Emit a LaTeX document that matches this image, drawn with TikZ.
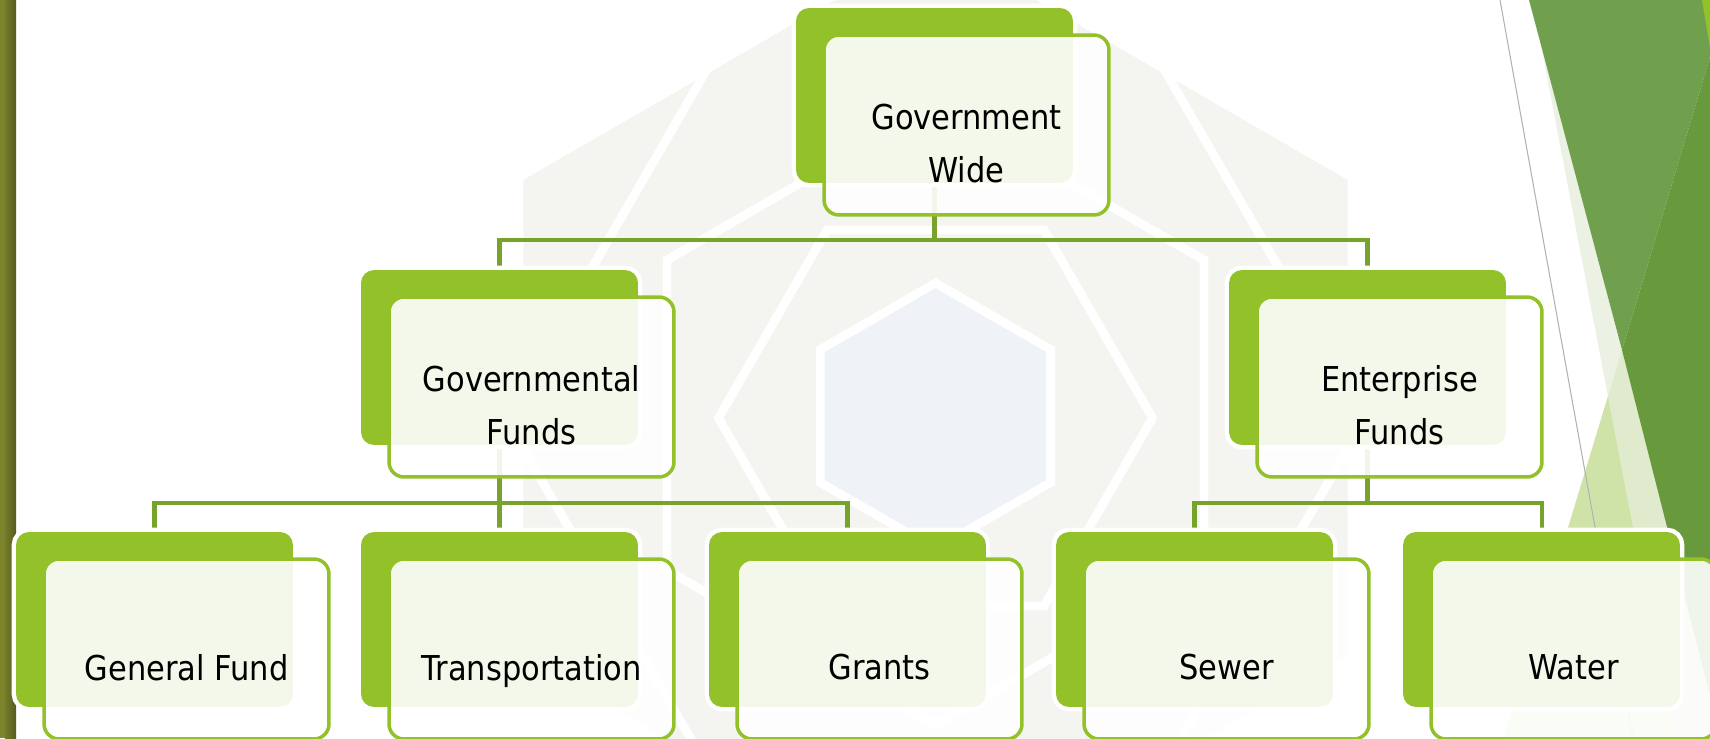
\documentclass[tikz,border=0pt]{standalone}
\usepackage{fontspec}
\newfontfamily\boxfont{DejaVu Sans}[FakeStretch=0.89]

\definecolor{boxgreen}{HTML}{92C12A}
\definecolor{linkgreen}{HTML}{77A22B}
\definecolor{hexgray}{HTML}{F4F4F0}
\definecolor{hexblue}{HTML}{EFF2F6}
\definecolor{facetmid}{HTML}{70A04E}
\definecolor{facetdark}{HTML}{689A3D}
\definecolor{facetlight}{HTML}{CFE2A8}
\definecolor{facetpale}{HTML}{E6EEDA}
\definecolor{barolive}{HTML}{7C852B}
\definecolor{barshade}{HTML}{565A1F}

\pgfdeclarelayer{deco}
\pgfdeclarelayer{links}
\pgfsetlayers{deco,links,main}

\begin{document}
\begin{tikzpicture}[x=0.02cm,y=-0.02cm,
    back/.style={rectangle,rounded corners=0.26cm,fill=boxgreen,inner sep=0pt,
        minimum width=5.54cm,minimum height=3.5cm,
        preaction={draw=white,line width=5pt}},
    front/.style={rectangle,rounded corners=0.3cm,draw=boxgreen,line width=2pt,
        fill=white,fill opacity=0.9,inner sep=0pt,
        minimum width=5.7cm,minimum height=3.6cm,xshift=0.64cm,yshift=-0.59cm},
    lbl/.style={font=\boxfont\fontsize{19.5}{30}\selectfont,align=center,
        text depth=0pt,inner sep=0pt,yshift=-0.36cm},
    link/.style={draw=linkgreen,line width=2.3pt},
    hexline/.style={draw=white,line width=5pt}]
        \useasboundingbox (0,0) rectangle (1710,738);

        % Level 1
        \node[back] (gwb) at (934.5,95.5) {};
        \node[front] (gw) at (gwb) {};
        \node[lbl] (gwt) at (gw) {Government\\Wide};
        % Level 2
        \node[back] (govb) at (499.5,357.5) {};
        \node[front] (gov) at (govb) {};
        \node[lbl] (govt) at (gov) {Governmental\\Funds};
        \node[back] (entb) at (1367.5,357.5) {};
        \node[front] (ent) at (entb) {};
        \node[lbl] (entt) at (ent) {Enterprise\\Funds};
        % Level 3
        \node[back] (genb) at (154.5,619.5) {};
        \node[front] (gen) at (genb) {};
        \node[lbl] (gent) at (gen) {General Fund};
        \node[back] (trab) at (499.5,619.5) {};
        \node[front] (tra) at (trab) {};
        \node[lbl] (trat) at (tra) {Transportation};
        \node[back] (grab) at (847.5,619.5) {};
        \node[front] (gra) at (grab) {};
        \node[lbl] (grat) at (gra) {Grants};
        \node[back] (sewb) at (1194.5,619.5) {};
        \node[front] (sew) at (sewb) {};
        \node[lbl] (sewt) at (sew) {Sewer};
        \node[back] (watb) at (1541.5,619.5) {};
        \node[front] (wat) at (watb) {};
        \node[lbl] (watt) at (wat) {Water};

        % Connectors
        \begin{pgfonlayer}{links}
            \coordinate (bus1) at (0,240);
            \coordinate (bus2) at (0,503);
            \draw[link] (gwb.south) -- (gwb.south |- bus1);
            \draw[link] (govb.north) -- (govb.north |- bus1) -- (entb.north |- bus1) -- (entb.north);
            \draw[link] (govb.south) -- (govb.south |- bus2);
            \draw[link] (genb.north) -- (genb.north |- bus2) -- (grab.north |- bus2) -- (grab.north);
            \draw[link] (trab.north) -- (trab.north |- bus2);
            \draw[link] (entb.south) -- (entb.south |- bus2);
            \draw[link] (sewb.north) -- (sewb.north |- bus2) -- (watb.north |- bus2) -- (watb.north);
        \end{pgfonlayer}

        \begin{pgfonlayer}{deco}
            \fill[white] (0,0) rectangle (1710,738);
            % Watermark hexagons
            \fill[hexgray] (935.5,418) +(30:476) -- +(90:476) -- +(150:476) -- +(210:476) -- +(270:476) -- +(330:476) -- cycle;
            \draw[hexline] (935.5,418) +(300:430) -- +(0:430) -- +(60:430) -- +(120:430) -- +(180:430) -- +(240:430);
            \draw[hexline] (935.5,415) +(30:310) -- +(90:310) -- +(150:310) -- +(210:310) -- +(270:310) -- +(330:310) -- cycle;
            \draw[hexline] (935.5,418) +(0:217) -- +(60:217) -- +(120:217) -- +(180:217) -- +(240:217) -- +(300:217) -- cycle;
            \filldraw[hexline,fill=hexblue] (935.5,416) +(30:133) -- +(90:133) -- +(150:133) -- +(210:133) -- +(270:133) -- +(330:133) -- cycle;
            % Right facets
            \fill[facetlight] (1622,350) -- (1710,696) -- (1710,738) -- (1504,738) -- cycle;
            \fill[facetpale,opacity=0.75] (1541,45) -- (1725,738) -- (1673,738) -- cycle;
            \fill[facetmid] (1529,0) -- (1710,0) -- (1710,57) -- (1622,350) -- cycle;
            \fill[facetdark] (1710,57) -- (1622,350) -- (1710,696) -- cycle;
            \fill[boxgreen] (1702,0) -- (1710,0) -- (1710,48) -- cycle;
            \draw[gray!60,line width=0.6pt] (1500,0) -- (1633,738);
            % Left bar
            \fill[barolive] (0,0) rectangle (5,738);
            \shade[left color=barolive!80!barshade,right color=barshade] (5,0) rectangle (16,738);
        \end{pgfonlayer}
\end{tikzpicture}
\end{document}
